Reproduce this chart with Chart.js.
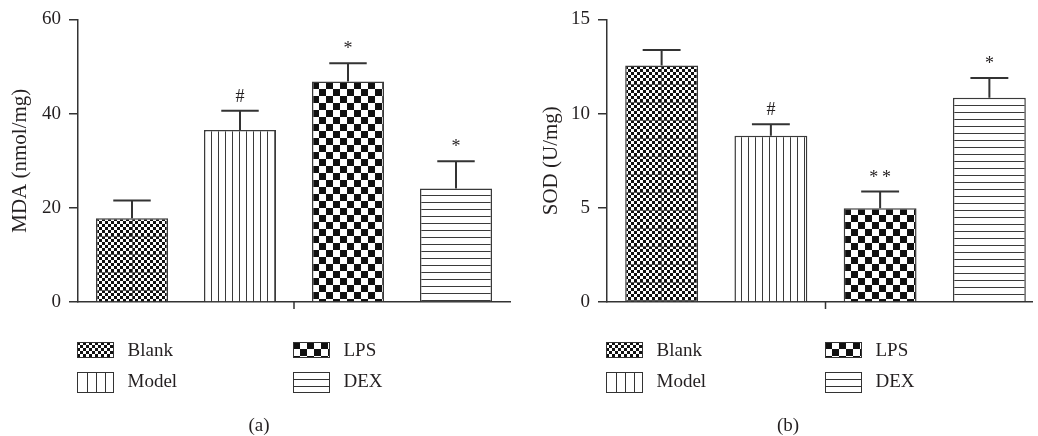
<!DOCTYPE html>
<html><head><meta charset="utf-8">
<script src="https://cdn.jsdelivr.net/npm/chart.js@4.4.1/dist/chart.umd.min.js"></script>
<style>
html,body{margin:0;padding:0;background:#fff;width:1038px;height:436px;overflow:hidden;}
#a{position:absolute;left:0;top:0;}
#wrapB{position:absolute;left:520px;top:0;width:513px;height:436px;overflow:hidden;}
#b{position:absolute;left:0;top:0;}
</style></head><body>
<canvas id="a" width="519" height="436"></canvas>
<div id="wrapB"><canvas id="b" width="524" height="436"></canvas></div>
<script>
const categories = ['Blank', 'Model', 'LPS', 'DEX'];
const mdaValues = [17.8, 36.5, 46.8, 24.1];
const mdaErrors = [3.75, 4.1, 3.9, 5.8];
const mdaMarks = ['', '#', '*', '*'];
const mdaTicks = [0, 20, 40, 60];
const sodValues = [12.55, 8.83, 4.98, 10.84];
const sodErrors = [0.82, 0.61, 0.88, 1.05];
const sodMarks = ['', '#', '*\u2009*', '*'];
const sodTicks = [0, 5, 10, 15];
const panelLabels = ['(a)', '(b)'];
const axisTitles = ['MDA (nmol/mg)', 'SOD (U/mg)'];

const INK = '#231f20';
const LINE = '#333333';
const FONT = '"Liberation Serif", "Times New Roman", serif';

function makeTile(w, h, draw) {
  const c = document.createElement('canvas'); c.width = w; c.height = h;
  const g = c.getContext('2d'); g.fillStyle = '#fff'; g.fillRect(0, 0, w, h);
  draw(g, w, h); return c;
}
function checker(cell, w, h) {
  return (g) => {
    g.fillStyle = '#111';
    for (let y = 0; y < h; y += cell)
      for (let x = 0; x < w; x += cell)
        if (((x / cell) + (y / cell)) % 2 === 0) g.fillRect(x, y, cell, cell);
  };
}
const tileMakers = {
  Blank: () => makeTile(72, 18, (g, w, h) => { checker(3, w, h)(g); g.fillStyle = '#5a5a5a'; g.fillRect(0, 0, w, 1); g.fillRect(36, 0, 1, h); }),
  Model: () => makeTile(7, 10, (g, w, h) => { g.fillStyle = '#3a3a3a'; g.fillRect(0, 0, 1, h); }),
  LPS: () => makeTile(14, 14, (g, w, h) => checker(7, w, h)(g)),
  DEX: () => makeTile(10, 7, (g, w, h) => { g.fillStyle = '#3a3a3a'; g.fillRect(0, 0, w, 1); })
};
function makePatterns(ctx) {
  return categories.map(c => ctx.createPattern(tileMakers[c](), 'repeat'));
}

const patternAnchor = {
  id: 'patternAnchor',
  beforeDatasetsDraw(chart) {
    const meta = chart.getDatasetMeta(0);
    const bg = chart.data.datasets[0].backgroundColor;
    meta.data.forEach((bar, i) => {
      const p = bg[i];
      if (p && p.setTransform) p.setTransform(new DOMMatrix([1, 0, 0, 1, Math.round(bar.x - bar.width / 2), Math.round(bar.y)]));
    });
  }
};

const errorBars = {
  id: 'errorBars',
  afterDatasetsDraw(chart, args, opts) {
    const { ctx } = chart;
    const meta = chart.getDatasetMeta(0);
    const ys = chart.scales.y;
    const vals = chart.data.datasets[0].data;
    ctx.save();
    ctx.strokeStyle = LINE; ctx.lineWidth = 2;
    meta.data.forEach((bar, i) => {
      const top = ys.getPixelForValue(vals[i] + opts.errors[i]);
      const half = bar.width * 0.26;
      ctx.beginPath();
      ctx.moveTo(bar.x, bar.y); ctx.lineTo(bar.x, top);
      ctx.moveTo(bar.x - half, top); ctx.lineTo(bar.x + half, top);
      ctx.stroke();
      if (opts.marks[i]) {
        ctx.fillStyle = INK; ctx.font = '18px ' + FONT;
        ctx.textAlign = 'center'; ctx.textBaseline = 'alphabetic';
        ctx.fillText(opts.marks[i], bar.x, top - 9);
      }
    });
    ctx.restore();
  }
};

const extras = {
  id: 'extras',
  afterDraw(chart, args, opts) {
    const { ctx, chartArea: ca } = chart;
    ctx.save();
    const cx = (ca.left + ca.right) / 2;
    ctx.strokeStyle = LINE; ctx.lineWidth = 1.5;
    ctx.beginPath(); ctx.moveTo(cx, ca.bottom); ctx.lineTo(cx, ca.bottom + 7); ctx.stroke();
    const cols = [ca.left - 1, cx - 1];
    const rows = [{ y: ca.bottom + 40, h: 15, base: ca.bottom + 54 }, { y: ca.bottom + 70, h: 20, base: ca.bottom + 85 }];
    const sw = 36;
    categories.forEach((name, i) => {
      const x = Math.round(cols[Math.floor(i / 2)]) + 0.5;
      const r = rows[i % 2];
      const y = Math.round(r.y) + 0.5;
      ctx.lineWidth = 1; ctx.strokeStyle = LINE;
      if (name === 'Blank' || name === 'LPS') {
        const cell = name === 'Blank' ? 3 : 7;
        const t = makeTile(cell * 2, cell * 2, (g, w, h) => checker(cell, w, h)(g));
        const p = ctx.createPattern(t, 'repeat');
        p.setTransform(new DOMMatrix([1, 0, 0, 1, x - 0.5, y - 0.5]));
        ctx.fillStyle = p; ctx.fillRect(x, y, sw, r.h);
      } else {
        ctx.fillStyle = '#fff'; ctx.fillRect(x, y, sw, r.h);
        ctx.beginPath();
        if (name === 'Model') {
          for (let k = 1; k < 4; k++) { const lx = Math.round(x + sw * k / 4) + 0.5; ctx.moveTo(lx, y); ctx.lineTo(lx, y + r.h); }
        } else {
          for (let k = 1; k < 3; k++) { const ly = Math.round(y + r.h * k / 3) + 0.5; ctx.moveTo(x, ly); ctx.lineTo(x + sw, ly); }
        }
        ctx.stroke();
      }
      ctx.strokeRect(x, y, sw, r.h);
      ctx.fillStyle = INK; ctx.font = '19px ' + FONT;
      ctx.textAlign = 'left'; ctx.textBaseline = 'alphabetic';
      ctx.fillText(name, x + 50, r.base);
    });
    ctx.textAlign = 'center';
    ctx.fillText(opts.caption, ca.left + 181, ca.bottom + 129);
    ctx.restore();
  }
};

function build(id, values, errors, marks, ticks, title, caption, yWidth, titlePad, padRight) {
  const canvas = document.getElementById(id);
  const ctx = canvas.getContext('2d');
  return new Chart(ctx, {
    type: 'bar',
    data: {
      labels: categories,
      datasets: [{
        data: values,
        backgroundColor: makePatterns(ctx),
        borderColor: '#3a3a3a',
        borderWidth: 1.5,
        barPercentage: 0.667,
        categoryPercentage: 1
      }]
    },
    options: {
      responsive: false,
      animation: false,
      events: [],
      devicePixelRatio: 1,
      layout: { padding: { top: 16, left: 0, right: padRight, bottom: 0 } },
      plugins: {
        legend: { display: false },
        tooltip: { enabled: false },
        errorBars: { errors, marks },
        extras: { caption }
      },
      scales: {
        x: {
          type: 'category',
          grid: { display: false, drawTicks: false },
          border: { display: true, color: LINE, width: 1.5 },
          ticks: { display: false },
          afterFit(s) { s.height = 134; }
        },
        y: {
          min: ticks[0],
          max: ticks[ticks.length - 1],
          ticks: { stepSize: ticks[1] - ticks[0], font: { family: FONT, size: 19 }, color: INK, padding: 8 },
          grid: { drawOnChartArea: false, drawTicks: true, tickLength: 9, color: LINE, lineWidth: 1.5 },
          border: { display: true, color: LINE, width: 1.5 },
          title: { display: true, text: title, font: { family: FONT, size: 21 }, color: INK, padding: { top: titlePad, bottom: 0 } },
          afterFit(s) { s.width = yWidth; }
        }
      }
    },
    plugins: [patternAnchor, errorBars, extras]
  });
}

build('a', mdaValues, mdaErrors, mdaMarks, mdaTicks, axisTitles[0], panelLabels[0], 78, 8, 9);
build('b', sodValues, sodErrors, sodMarks, sodTicks, axisTitles[1], panelLabels[1], 87, 19, 0);
</script>
</body></html>
